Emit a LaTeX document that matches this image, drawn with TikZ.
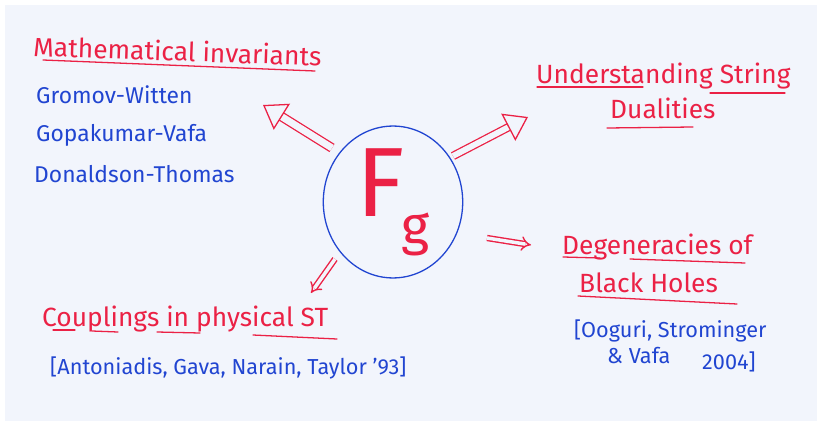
\documentclass[tikz,border=0pt]{standalone}
\usepackage{fontspec}
\setmainfont{Fira Sans}
\usetikzlibrary{shapes.geometric, arrows.meta}
\definecolor{myred}{rgb}{0.92,0.13,0.27}
\definecolor{myblue}{rgb}{0.13,0.27,0.82}
\definecolor{mypaper}{rgb}{0.95,0.96,0.99}
\newcommand{\HeadFont}{\fontsize{22.5}{26}\selectfont}
\newcommand{\ItemFont}{\fontsize{19.5}{23}\selectfont}
\newcommand{\RefFont}{\fontsize{18.5}{22}\selectfont}

\begin{document}
\begin{tikzpicture}[x=0.03cm, y=-0.03cm,
  head/.style={myred, anchor=base west, inner sep=0pt, font=\HeadFont},
  item/.style={myblue, anchor=base west, inner sep=0pt, font=\ItemFont},
  cite/.style={myblue, anchor=base west, inner sep=0pt, font=\RefFont},
  uline/.style={myred, line width=1.1pt, line cap=round},
  hollow/.style={myred, line width=1.1pt, double=mypaper, double distance=6pt,
    -{Triangle[open, length=19pt, width=26pt]}},
  twin/.style={myred, line width=1.2pt, double=mypaper, double distance=3pt, -Implies}]
  % paper
  \fill[white] (0,0) rectangle (821,425);
  \fill[mypaper] (5,5) rectangle (817,421);

  % centre
  \node[ellipse, draw=myblue, text=myred, line width=1.1pt, inner sep=0pt,
        minimum width=119pt, minimum height=107pt] (Fg) at (393,202)
    {\fontsize{84}{84}\selectfont F\kern-3pt\raisebox{-24pt}{\fontsize{46}{46}\selectfont g}};

  % upper left
  \node[head, rotate=-2] (MI) at (33,56) {Mathematical invariants};
  \node[item] (GW) at (36,104) {Gromov-Witten};
  \node[item] (GV) at (36,142) {Gopakumar-Vafa};
  \node[item] (DT) at (34,182) {Donaldson-Thomas};
  \draw[uline] (43,60) -- (315,71);

  % upper right
  \node[head] (US) at (536,84) {Understanding String};
  \node[head] (SD) at (610,119) {Dualities};
  \draw[uline] (537,87) -- (643,87);
  \draw[uline] (710,93) -- (785,93);
  \draw[uline] (607,128) -- (693,127);

  % lower right
  \node[head] (DG) at (562,254) {Degeneracies of};
  \node[head] (BH) at (579,292) {Black Holes};
  \node[cite] (OSV) at (574,337) {[Ooguri, Strominger};
  \node[cite] (VA) at (607,363) {\& Vafa};
  \node[cite] (YR) at (702,369) {2004]};
  \draw[uline] (563,257) -- (600,258);
  \draw[uline] (630,259) -- (745,263);
  \draw[uline] (578,296) -- (737,304);

  % lower left
  \node[head] (CP) at (42,326) {Couplings in physical ST};
  \node[cite] (AGNT) at (50,374) {[Antoniadis, Gava, Narain, Taylor '93]};
  \draw[uline] (53,330) -- (75,330);
  \draw[uline] (92,331) -- (118,332);
  \draw[uline] (157,332) -- (200,333);
  \draw[uline] (253,335) -- (337,339);

  % arrows
  \coordinate (a1) at (332,148); \coordinate (b1) at (263,105);
  \coordinate (a2) at (453,156); \coordinate (b2) at (528,117);
  \coordinate (a3) at (487,238); \coordinate (b3) at (531,245);
  \coordinate (a4) at (335,259); \coordinate (b4) at (311,293);
  \draw[hollow] (a1) -- (b1);
  \draw[hollow, double distance=5pt] (a2) -- (b2);
  \draw[twin] (a3) -- (b3);
  \draw[twin] (a4) -- (b4);
\end{tikzpicture}
\end{document}
